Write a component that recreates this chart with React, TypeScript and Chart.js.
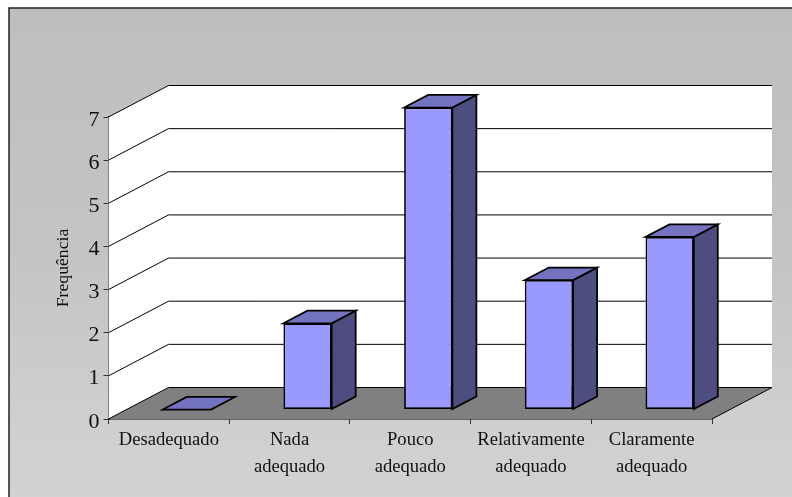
import React, { useEffect, useRef } from "react";
import { Chart, registerables } from "chart.js";

Chart.register(...registerables);

const categories = [
  "Desadequado",
  ["Nada", "adequado"],
  ["Pouco", "adequado"],
  ["Relativamente", "adequado"],
  ["Claramente", "adequado"],
];
const frequencies = [0, 2, 7, 3, 4];
const yTicks = [0, 1, 2, 3, 4, 5, 6, 7];
const yAxisTitle = "Frequência";

// Oblique projection of the 3D box, in canvas pixels
const DEPTH_X = 60;
const DEPTH_Y = 31.5;
const BAR_OFFSET = 0.3; // share of the depth in front of each bar
const BAR_DEPTH = 0.4; // share of the depth taken by a bar

const FRONT_COLOR = "#9999ff";
const SIDE_COLOR = "#4d4d80";
const TOP_COLOR = "#7373bf";
const FLOOR_COLOR = "#808080";
const TEXT_COLOR = "#111111";
const SERIF = "'Liberation Serif'";

function poly(ctx: CanvasRenderingContext2D, pts: number[][], fill: string | null, stroke: string | null, lw = 1) {
  ctx.beginPath();
  pts.forEach((p, i) => (i ? ctx.lineTo(p[0], p[1]) : ctx.moveTo(p[0], p[1])));
  ctx.closePath();
  if (fill) {
    ctx.fillStyle = fill;
    ctx.fill();
  }
  if (stroke) {
    ctx.strokeStyle = stroke;
    ctx.lineWidth = lw;
    ctx.lineJoin = "miter";
    ctx.stroke();
  }
}

// Page backdrop with its top and left rules
const backdrop = {
  id: "backdrop",
  beforeDraw(chart: any) {
    const { ctx, width, height } = chart;
    ctx.save();
    const g = ctx.createLinearGradient(0, 8, 0, height);
    g.addColorStop(0, "#bebebe");
    g.addColorStop(0.5, "#c4c4c4");
    g.addColorStop(0.85, "#cfcfcf");
    g.addColorStop(1, "#d2d2d2");
    ctx.fillStyle = "#ffffff";
    ctx.fillRect(0, 0, width, height);
    ctx.fillStyle = g;
    ctx.fillRect(9, 8, width - 9, height - 8);
    ctx.strokeStyle = "#222222";
    ctx.lineWidth = 1.5;
    ctx.beginPath();
    ctx.moveTo(width, 8);
    ctx.lineTo(9, 8);
    ctx.lineTo(9, height);
    ctx.stroke();
    ctx.restore();
  },
};

// Side wall, back wall, floor and gridlines, all placed from the scales
const box3d = {
  id: "box3d",
  beforeDatasetsDraw(chart: any) {
    const { ctx, chartArea, scales } = chart;
    const { left, right, top, bottom } = chartArea;
    const y = scales.y;
    ctx.save();
    poly(ctx, [[left, top], [left + DEPTH_X, top - DEPTH_Y], [left + DEPTH_X, bottom - DEPTH_Y], [left, bottom]], "#ffffff", null);
    ctx.fillStyle = "#ffffff";
    ctx.fillRect(left + DEPTH_X - 0.5, top - DEPTH_Y, right - left + 0.5, bottom - top);
    poly(ctx, [[left, bottom], [right, bottom], [right + DEPTH_X, bottom - DEPTH_Y], [left + DEPTH_X, bottom - DEPTH_Y]], FLOOR_COLOR, null);
    ctx.strokeStyle = "#000000";
    ctx.lineWidth = 1;
    yTicks.forEach((v) => {
      const py = y.getPixelForValue(v);
      ctx.beginPath();
      ctx.moveTo(left, py);
      ctx.lineTo(left + DEPTH_X, py - DEPTH_Y);
      ctx.lineTo(right + DEPTH_X, py - DEPTH_Y);
      if (v === 0) ctx.lineTo(right, py);
      ctx.stroke();
    });
    ctx.restore();
  },
  // The side and top faces sit behind the library's front face,
  // which is itself shifted into the depth of the box.
  beforeDatasetDraw(chart: any, args: any) {
    const { ctx } = chart;
    const meta = chart.getDatasetMeta(args.index);
    const ox = DEPTH_X * BAR_OFFSET;
    const oy = DEPTH_Y * BAR_OFFSET;
    const dx = DEPTH_X * BAR_DEPTH;
    const dy = DEPTH_Y * BAR_DEPTH;
    ctx.save();
    ctx.translate(ox, -oy);
    meta.data.forEach((bar: any) => {
      const l = bar.x - bar.width / 2;
      const r = bar.x + bar.width / 2;
      const t = bar.y;
      const b = bar.base;
      if (b - t > 0.5) {
        poly(ctx, [[r, t], [r + dx, t - dy], [r + dx, b - dy], [r, b]], SIDE_COLOR, "#000000", 1.75);
      }
      poly(ctx, [[l, t], [r, t], [r + dx, t - dy], [l + dx, t - dy]], TOP_COLOR, "#000000", 1.75);
    });
  },
  afterDatasetDraw(chart: any) {
    chart.ctx.restore();
  },
};

export default function App() {
  const ref = useRef<HTMLCanvasElement>(null);

  useEffect(() => {
    const chart = new Chart(ref.current as HTMLCanvasElement, {
      type: "bar",
      data: {
        labels: categories as any,
        datasets: [
          {
            label: yAxisTitle,
            data: frequencies,
            backgroundColor: FRONT_COLOR,
            borderColor: "#000000",
            borderWidth: 1.75,
            borderSkipped: false,
            categoryPercentage: 1,
            barPercentage: 0.4,
          },
        ],
      },
      options: {
        responsive: false,
        animation: false,
        events: [],
        layout: { padding: { left: 0, right: 80, top: 117, bottom: 0 } },
        plugins: {
          legend: { display: false },
          tooltip: { enabled: false },
          title: { display: false },
        },
        scales: {
          x: {
            grid: {
              drawOnChartArea: false,
              drawTicks: true,
              tickLength: 5,
              tickColor: "#333333",
              offset: true,
            },
            border: { display: true, color: "#000000", width: 1.5 },
            ticks: {
              color: TEXT_COLOR,
              font: { family: SERIF, size: 18.6, lineHeight: 1.45 },
              maxRotation: 0,
              minRotation: 0,
              autoSkip: false,
              padding: 3,
            },
            afterFit(scale: any) {
              scale.height = 78;
            },
          },
          y: {
            min: 0,
            max: 7,
            grid: {
              drawOnChartArea: false,
              drawTicks: true,
              tickLength: 5,
              tickColor: "#333333",
            },
            border: { display: true, color: "#000000", width: 1.5 },
            ticks: {
              stepSize: 1,
              color: TEXT_COLOR,
              // The blank first line settles each digit just under its tick
              callback: (value: any) => ["", String(value)],
              font: { family: SERIF, size: 22, lineHeight: 0.25 },
              padding: 4,
            },
            title: {
              display: true,
              text: yAxisTitle,
              color: TEXT_COLOR,
              font: { family: SERIF, size: 17.7 },
              padding: { top: 53, bottom: 0 },
            },
            afterFit(scale: any) {
              scale.width = 108.5;
            },
          },
        },
      },
      plugins: [backdrop, box3d],
    });
    return () => chart.destroy();
  }, []);

  return (
    <div style={{ position: "absolute", left: 0, top: 0, width: 792, height: 497 }}>
      <canvas ref={ref} width={792} height={497} style={{ display: "block" }} />
    </div>
  );
}
